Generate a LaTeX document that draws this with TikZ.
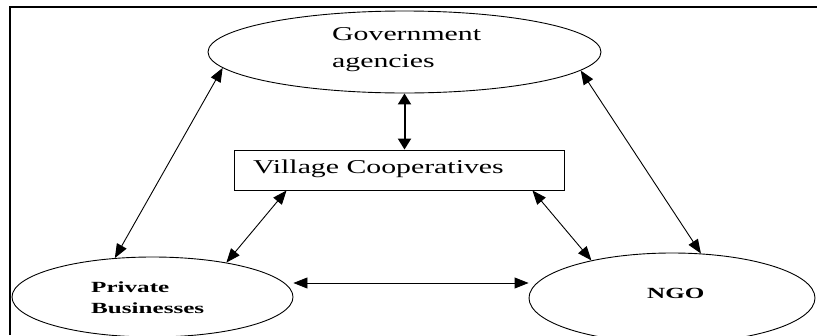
\documentclass[tikz,border=0pt]{standalone}
\usepackage{graphicx}
\usepackage{fontspec}
\setmainfont{Liberation Serif}
\newfontfamily\wideserif[FakeStretch=1.52]{Liberation Serif}
\newcommand{\widen}[1]{{\fontsize{15.5}{18}\selectfont\bfseries\scalebox{1.62}[1]{#1}}}
\usetikzlibrary{shapes.geometric,arrows.meta}
\begin{document}
\begin{tikzpicture}[x=1pt,y=-1pt,
  oval/.style={draw, ellipse, line width=0.9pt, inner sep=0pt},
  coopbox/.style={draw, rectangle, line width=0.9pt, inner sep=0pt, minimum width=330pt, minimum height=40pt},
  bigtext/.style={inner sep=0pt, anchor=base west, font=\wideserif\fontsize{19.6}{24}\selectfont},
  lbl/.style={inner sep=0pt, anchor=base west},
  link/.style={line width=0.9pt, {Triangle[length=14pt,width=11pt]}-{Triangle[length=14pt,width=11pt]}},
  mainlink/.style={line width=2pt, {Triangle[length=11pt,width=13pt]}-{Triangle[length=11pt,width=13pt]}},
  frame/.style={line width=2.3pt}]
\useasboundingbox (0,0) rectangle (817,335);
\clip (0,0) rectangle (817,335);
% frame
\coordinate (ftl) at (10,7);
\coordinate (ftr) at (817,7);
\coordinate (fbl) at (10,335);
\draw[frame] (fbl) -- (ftl) -- (ftr);
% nodes
\node[oval, minimum width=393pt, minimum height=82pt] (gov) at (404.5,52) {};
\node[coopbox] (coop) at (399,170) {};
\node[oval, minimum width=281pt, minimum height=80pt] (priv) at (152.5,297) {};
\node[oval, minimum width=286pt, minimum height=90pt] (ngo) at (672,298) {};
% texts
\node[bigtext] (govt1) at (332,40) {Government};
\node[bigtext] (govt2) at (332,67) {agencies};
\node[bigtext] (coopt) at (253,173) {Village Cooperatives};
\node[lbl] (privt1) at (91,292) {\widen{Private}};
\node[lbl] (privt2) at (91,313) {\widen{Businesses}};
\node[lbl] (ngot) at (647,298) {\widen{NGO}};
% connectors
\draw[mainlink] (gov.south) -- (gov.south |- coop.north);
\draw[link] (gov.185.4) -- (priv.134.7);
\draw[link] (gov.354) -- (ngo.57);
\draw[link] ([xshift=53pt]coop.south west) -- (priv.25.4);
\draw[link] ([xshift=-32pt]coop.south east) -- (ngo.155);
\draw[link] ([yshift=14pt]priv.east) -- ([yshift=15pt]ngo.west);
\end{tikzpicture}
\end{document}
